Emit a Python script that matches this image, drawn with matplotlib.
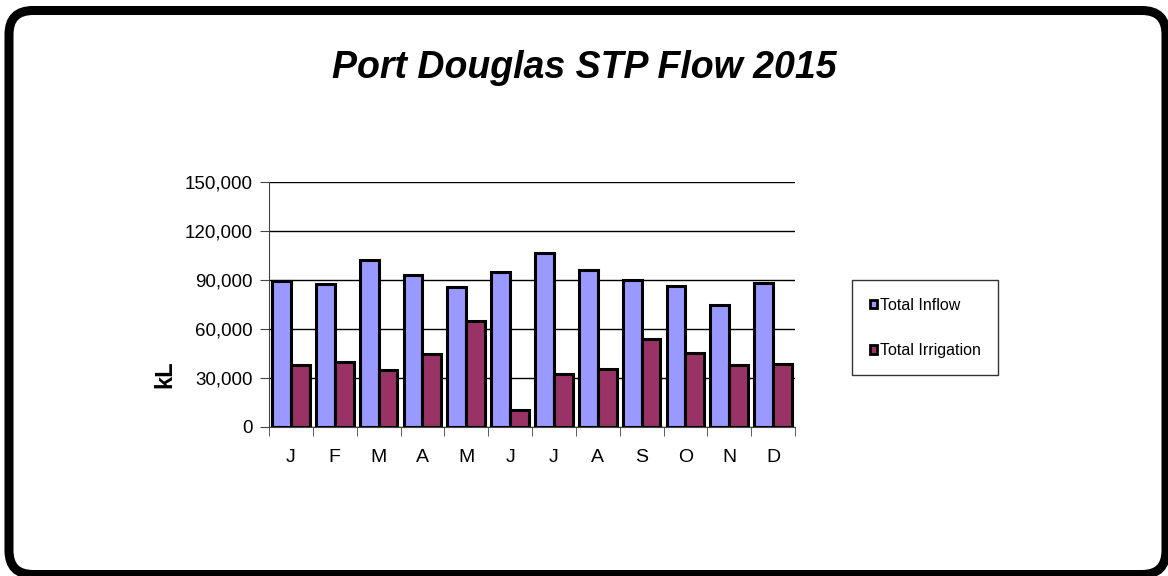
import numpy as np
import matplotlib.pyplot as plt
from matplotlib.patches import FancyBboxPatch, Patch
from matplotlib.ticker import FuncFormatter

plt.rcParams['font.family'] = ['Liberation Sans', 'DejaVu Sans']

months = ['J', 'F', 'M', 'A', 'M', 'J', 'J', 'A', 'S', 'O', 'N', 'D']
inflow = [89400, 87800, 102300, 93100, 85900, 94700, 106300, 96100, 90000, 86500, 74700, 88400]
irrigation = [37800, 39800, 34900, 44900, 64700, 10400, 32300, 35700, 54100, 45300, 38000, 38600]

fig = plt.figure(figsize=(11.68, 5.76), dpi=100)

# rounded outer frame, drawn in pixel units on a full-figure axes
bg = fig.add_axes([0, 0, 1, 1])
bg.set_xlim(0, 1168)
bg.set_ylim(576, 0)
bg.axis('off')
bg.add_patch(FancyBboxPatch((9, 10.5), 1157, 564, boxstyle="round,pad=0,rounding_size=24",
                            fill=False, lw=6.5, ec='black'))

ax = fig.add_axes([0.2303, 0.2587, 0.4504, 0.4253])
x = np.arange(len(months))
w = 0.43
ax.bar(x - w/2, inflow, w, color='#9999ff', edgecolor='black', lw=2.2, zorder=3, label='Total Inflow')
ax.bar(x + w/2, irrigation, w, color='#993366', edgecolor='black', lw=2.2, zorder=3, label='Total Irrigation')

ax.set_ylim(0, 150000)
ax.set_xlim(-0.5, len(months) - 0.5)
ax.set_yticks(np.arange(0, 150001, 30000))
ax.yaxis.set_major_formatter(FuncFormatter(lambda v, p: f'{int(v):,}'))
ax.yaxis.grid(True, color='black', lw=1, zorder=0)
ax.set_axisbelow(True)

ax.set_xticks(x)
ax.set_xticklabels(months)
ax.set_xticks(np.arange(-0.5, len(months)), minor=True)
ax.tick_params(axis='x', which='major', length=0, pad=16, labelsize=14)
ax.tick_params(axis='x', which='minor', length=6.5, direction='out', color='#444444')
ax.tick_params(axis='y', length=6.5, direction='out', labelsize=13.5, pad=5, color='#444444')

for s in ['top', 'right']:
    ax.spines[s].set_visible(False)
ax.spines['left'].set_color('#444444')
ax.spines['bottom'].set_color('#444444')

fig.text(165/1168, 1 - 374/576, 'kL', rotation=90, ha='center', va='center',
         fontsize=17, fontweight='bold')

fig.text(0.5, 1 - 68/576, 'Port Douglas STP Flow 2015', ha='center', va='center',
         fontsize=27, fontweight='bold', style='italic')

handles = [Patch(facecolor='#9999ff', edgecolor='black', lw=2),
           Patch(facecolor='#993366', edgecolor='black', lw=2)]
leg = fig.legend(handles, ['Total Inflow', 'Total Irrigation'], loc='upper left',
                 bbox_to_anchor=(852/1168, 1 - 280/576), frameon=True, fancybox=False,
                 fontsize=11.5, handlelength=0.45, handleheight=0.45, handletextpad=0.2,
                 labelspacing=1.9, borderpad=1.1, borderaxespad=0)
leg.get_frame().set_edgecolor('black')
leg.get_frame().set_linewidth(1)

fig.savefig('out.png', dpi=100)
